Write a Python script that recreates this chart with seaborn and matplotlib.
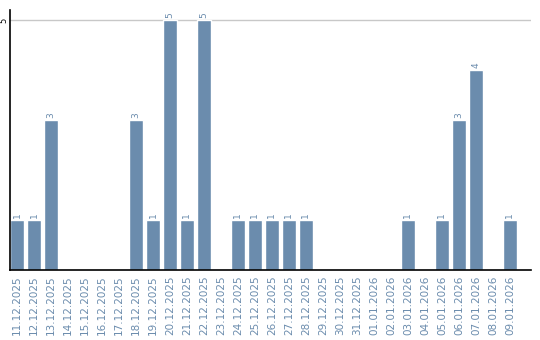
import matplotlib
matplotlib.use("Agg")
import matplotlib.pyplot as plt
import seaborn as sns
import pandas as pd

dates = ["11.12.2025", "12.12.2025", "13.12.2025", "14.12.2025", "15.12.2025",
         "16.12.2025", "17.12.2025", "18.12.2025", "19.12.2025", "20.12.2025",
         "21.12.2025", "22.12.2025", "23.12.2025", "24.12.2025", "25.12.2025",
         "26.12.2025", "27.12.2025", "28.12.2025", "29.12.2025", "30.12.2025",
         "31.12.2025", "01.01.2026", "02.01.2026", "03.01.2026", "04.01.2026",
         "05.01.2026", "06.01.2026", "07.01.2026", "08.01.2026", "09.01.2026"]
counts = [1, 1, 3, 0, 0, 0, 0, 3, 1, 5,
          1, 5, 0, 1, 1, 1, 1, 1, 0, 0,
          0, 0, 0, 1, 0, 1, 3, 4, 0, 1]
y_ticks = [5]

bar_color = "#6b8cad"
label_color = "#6b8cad"

sns.set_theme(style="white")
plt.rcParams['font.family'] = ['DejaVu Sans']

df = pd.DataFrame({"date": dates, "count": counts})

fig = plt.figure(figsize=(5.4, 3.4), dpi=100)
ax = fig.add_axes([10/540, 1 - 270/340, (531 - 10)/540, (270 - 10)/340])

sns.barplot(data=df, x="date", y="count", ax=ax, color=bar_color,
            width=0.82, saturation=1, order=dates)

ax.set_xlim(-0.41, 30.24)
ax.set_ylim(0, 5.2)
ax.set_yticks(y_ticks)
ax.set_yticklabels([str(v) for v in y_ticks], rotation=90, va="center",
                   fontsize=6, color="black")
ax.tick_params(axis="y", length=0, pad=1)
ax.tick_params(axis="x", length=0, pad=4)
ax.set_xticks(range(len(dates)))
ax.set_xticklabels(dates, rotation=90, fontsize=7.5, color=label_color,
                   va="top", ha="center")
ax.set_xlabel("")
ax.set_ylabel("")

for v in y_ticks:
    ax.axhline(v, color="#c8c8c8", lw=1, zorder=0)

for s in ["top", "right"]:
    ax.spines[s].set_visible(False)
for s in ["left", "bottom"]:
    ax.spines[s].set_color("black")
    ax.spines[s].set_linewidth(1.2)

for i, v in enumerate(counts):
    if v > 0:
        ax.text(i, v + 0.04, str(v), rotation=90, ha="center", va="bottom",
                fontsize=6.5, color=label_color)

fig.savefig("out.png", dpi=100)
